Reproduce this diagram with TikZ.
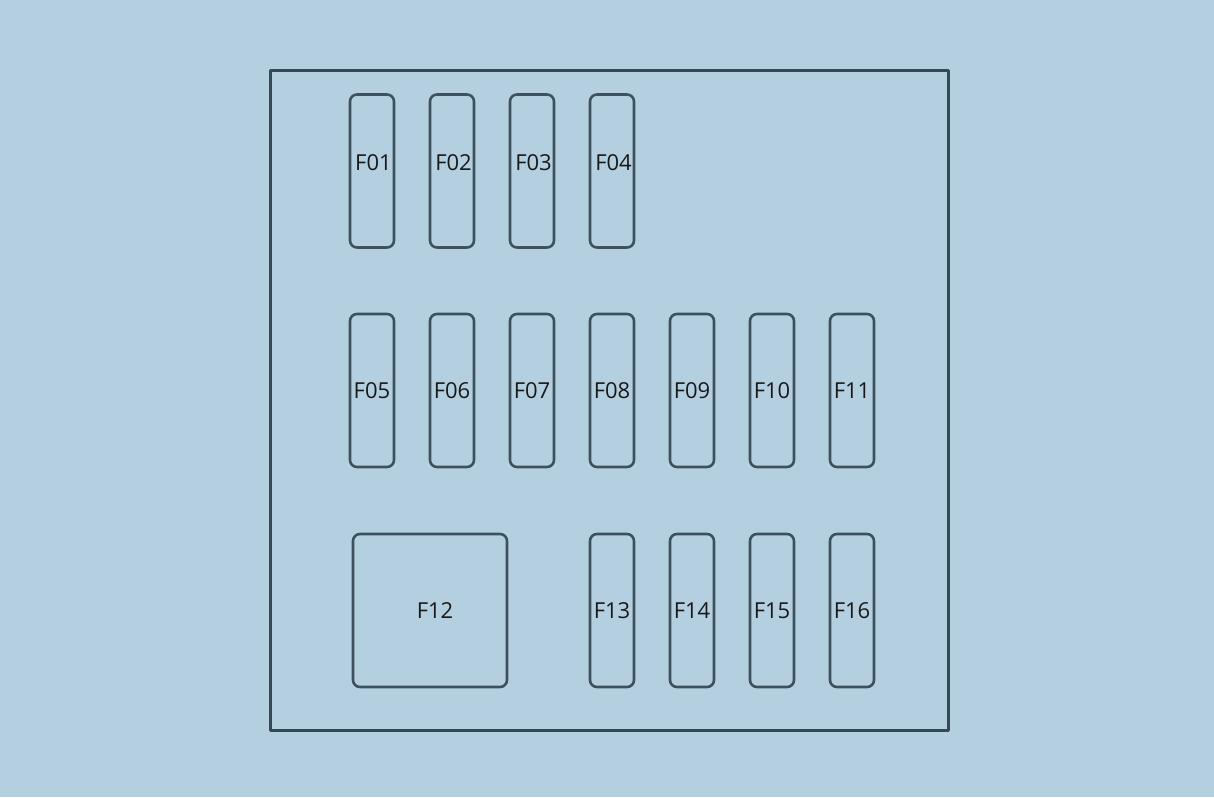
\documentclass[tikz,border=0pt]{standalone}
\usepackage{fontspec}
\setmainfont{Open Sans}
\definecolor{bgblue}{HTML}{B4D0E0}
\definecolor{edge}{HTML}{3D505E}
\begin{document}
\begin{tikzpicture}[x=1pt, y=-1pt, line join = round, line cap = round, font=\fontsize{22}{26}\selectfont]
				\tikzset{fuse style/.style={draw=edge, line width=2.6pt, rounded corners=7pt, inner sep=0pt, minimum width=44pt, minimum height=153pt, text=black!90}}
				\fill[bgblue] (0,0) rectangle (1214,797);
				\useasboundingbox (0,0) rectangle (1214,797);
				\node[draw=edge!90!black, line width=3pt, minimum width=678pt, minimum height=659pt, inner sep=0pt] (box) at (609,400.5) {};
				%\draw[red] (270,71) rectangle (948,730);
				\foreach \n/\x in {F01/372,F02/452,F03/532,F04/612}
				\node[fuse style, label={[text=black!90, yshift=8pt, xshift=1.5pt]center:\n}] (\n) at (\x,171) {};
				\foreach \n/\x in {F05/372,F06/452,F07/532,F08/612,F09/692,F10/772,F11/852}
				\node[fuse style] (\n) at (\x,390.5) {\n};
				\node[fuse style, minimum width=154pt] (F12) at (430,610.5) {\hspace*{10pt}F12};
				\foreach \n/\x in {F13/612,F14/692,F15/772,F16/852}
				\node[fuse style] (\n) at (\x,610.5) {\n};
		\end{tikzpicture}
\end{document}
